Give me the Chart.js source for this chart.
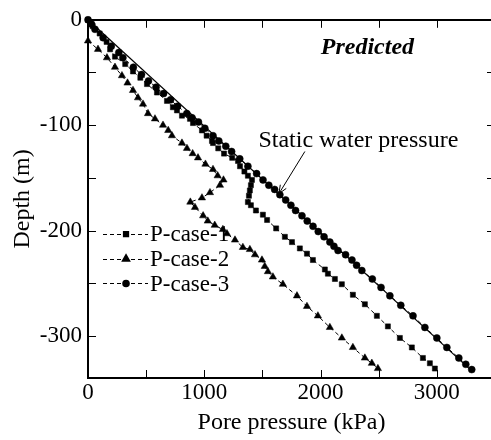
<!DOCTYPE html>
<html><head><meta charset="utf-8">
<script src="https://cdn.jsdelivr.net/npm/chart.js@4.4.1/dist/chart.umd.min.js"></script>
<style>
html,body{margin:0;padding:0;background:#fff;overflow:hidden;width:491px;height:440px}
#wrap{width:500px;height:440px;position:relative}
</style>
</head><body><div id="wrap"><canvas id="c" width="500" height="440"></canvas></div>
<script>
// ---------- data ----------
const seriesNames = ['P-case-1', 'P-case-2', 'P-case-3'];

const case1Pressure = [0, 40, 100, 160, 190, 232, 320, 387, 450, 507, 593, 679, 730, 765, 808, 877, 903, 980, 1020, 1066, 1075, 1120, 1170, 1240, 1290, 1307, 1345, 1375, 1410, 1401, 1392, 1384, 1375, 1401, 1444, 1504, 1540, 1618, 1693, 1754, 1822, 1883, 1934, 2037, 2063, 2123, 2183, 2278, 2381, 2484, 2579, 2682, 2785, 2880, 2940, 2983];
const case1Depth    = [0, -6, -13, -21, -28, -35, -42, -49, -55, -61, -69, -77, -83, -86, -91, -94, -98, -105, -110, -115, -117, -122, -127, -131, -134, -139, -144, -148, -152, -157, -162, -167, -173, -176, -181, -185, -190, -198, -206, -211, -217, -222, -228, -237, -241, -246, -251, -261, -270, -281, -291, -302, -311, -321, -326, -331];

const case2Pressure = [0, 86, 163, 232, 292, 340, 387, 430, 473, 516, 576, 645, 690, 722, 808, 851, 900, 946, 1010, 1075, 1115, 1165, 1135, 1049, 980, 880, 920, 990, 1030, 1090, 1160, 1195, 1264, 1332, 1392, 1436, 1496, 1520, 1547, 1590, 1676, 1797, 1883, 1977, 2080, 2183, 2278, 2381, 2441, 2493];
const case2Depth    = [-20, -28, -36, -45, -53, -60, -67, -74, -80, -89, -94, -100, -105, -110, -117, -122, -127, -131, -137, -142, -148, -152, -157, -164, -169, -173, -178, -186, -191, -195, -199, -203, -209, -216, -218, -223, -228, -234, -239, -244, -251, -262, -272, -281, -292, -302, -311, -321, -326, -331];

const case3Pressure = [0, 30, 60, 130, 200, 265, 300, 390, 460, 520, 585, 650, 710, 770, 850, 895, 950, 1005, 1075, 1125, 1185, 1235, 1305, 1375, 1450, 1505, 1555, 1605, 1650, 1700, 1745, 1785, 1840, 1885, 1935, 1980, 2030, 2080, 2115, 2150, 2215, 2270, 2310, 2355, 2445, 2520, 2596, 2690, 2795, 2897, 3000, 3086, 3189, 3249, 3300];
const case3Depth    = [0, -4, -9, -17, -25, -31, -36, -45, -52, -58, -64, -70, -76, -82, -89, -93, -97, -103, -110, -115, -120, -125, -132, -139, -146, -152, -157, -161, -166, -171, -176, -181, -186, -191, -196, -201, -206, -211, -215, -219, -223, -228, -233, -238, -246, -254, -262, -271, -281, -292, -302, -311, -321, -327, -332];

const staticPressure = [0, 3307];
const staticDepth    = [0, -334];

const xTickValues  = [0, 500, 1000, 1500, 2000, 2500, 3000];
const xLabelValues = [0, 1000, 2000, 3000];
const yTickValues  = [0, -50, -100, -150, -200, -250, -300];
const yLabelValues = [0, -100, -200, -300];

const xTitle = 'Pore pressure (kPa)';
const yTitle = 'Depth (m)';
const panelLabel = 'Predicted';
const staticLabel = 'Static water pressure';

// ---------- build ----------
const FONT = "'Liberation Serif', 'Times New Roman', serif";
const pts = (xs, ys) => xs.map((v, i) => ({x: v, y: ys[i]}));
const markerStyles = ['rect', 'triangle', 'circle'];
const markerRadius = [3.6, 4.2, 3.5];
const series = [
  pts(case1Pressure, case1Depth),
  pts(case2Pressure, case2Depth),
  pts(case3Pressure, case3Depth)
];

const datasets = series.map((d, i) => ({
  label: seriesNames[i],
  data: d,
  showLine: true,
  borderColor: '#000',
  backgroundColor: '#000',
  borderWidth: 1,
  borderDash: [4, 3],
  pointStyle: markerStyles[i],
  pointRadius: markerRadius[i],
  pointBorderWidth: 0.5,
  pointBackgroundColor: '#000',
  pointBorderColor: '#000',
  clip: false,
  tension: 0
}));
datasets.push({
  label: 'static',
  data: pts(staticPressure, staticDepth),
  showLine: true,
  borderColor: '#000',
  borderWidth: 1.2,
  pointRadius: 0,
  clip: false
});

// legend / annotation anchor positions in data units
const legendLineX = [129, 516];
const legendMarkX = 327;
const legendTextX = 533;
const legendRowY = [-203.4, -226.9, -250.3];
const legendMarkRadius = [3, 3.6, 2.8];
const staticTextPos = [2325, -121];
const arrowFrom = [1865, -125];
const arrowTo = [1642, -165];
const panelLabelPos = [2403, -32];

const framePlugin = {
  id: 'frame',
  afterDraw(chart) {
    const {ctx, chartArea: a, scales: {x, y}} = chart;
    ctx.save();
    ctx.strokeStyle = '#000';
    ctx.lineWidth = 1;
    const TL = 8;
    ctx.beginPath();
    xTickValues.forEach(v => {
      const px = Math.round(x.getPixelForValue(v)) + 0.5;
      ctx.moveTo(px, a.bottom); ctx.lineTo(px, a.bottom - TL);
      ctx.moveTo(px, a.top); ctx.lineTo(px, a.top + TL);
    });
    yTickValues.forEach(v => {
      const py = Math.round(y.getPixelForValue(v)) + 0.5;
      ctx.moveTo(a.left, py); ctx.lineTo(a.left + TL, py);
      ctx.moveTo(a.right, py); ctx.lineTo(a.right - TL, py);
    });
    ctx.stroke();
    ctx.lineWidth = 2;
    ctx.strokeRect(Math.round(a.left), Math.round(a.top), Math.round(a.right - a.left), Math.round(a.bottom - a.top));

    // legend
    for (let i = 0; i < 3; i++) {
      const py = y.getPixelForValue(legendRowY[i]);
      const x1 = x.getPixelForValue(legendLineX[0]);
      const x2 = x.getPixelForValue(legendLineX[1]);
      ctx.save();
      ctx.lineWidth = 1;
      ctx.setLineDash([4, 3]);
      ctx.beginPath(); ctx.moveTo(x1, Math.round(py) + 0.5); ctx.lineTo(x2, Math.round(py) + 0.5); ctx.stroke();
      ctx.restore();
      ctx.fillStyle = '#000';
      Chart.helpers.drawPoint(ctx, {pointStyle: markerStyles[i], radius: legendMarkRadius[i], rotation: 0, borderWidth: 0.5}, x.getPixelForValue(legendMarkX), py);
      ctx.fillStyle = '#000';
      ctx.font = '23px ' + FONT;
      ctx.textAlign = 'left';
      ctx.textBaseline = 'middle';
      ctx.fillText(seriesNames[i], x.getPixelForValue(legendTextX), py + 1);
    }

    // annotations
    ctx.fillStyle = '#000';
    ctx.font = '24px ' + FONT;
    ctx.textAlign = 'center';
    ctx.textBaseline = 'alphabetic';
    ctx.fillText(staticLabel, x.getPixelForValue(staticTextPos[0]), y.getPixelForValue(staticTextPos[1]));
    ctx.font = 'italic bold 24px ' + FONT;
    ctx.fillText(panelLabel, x.getPixelForValue(panelLabelPos[0]), y.getPixelForValue(panelLabelPos[1]));

    const ax1 = x.getPixelForValue(arrowFrom[0]), ay1 = y.getPixelForValue(arrowFrom[1]);
    const ax2 = x.getPixelForValue(arrowTo[0]), ay2 = y.getPixelForValue(arrowTo[1]);
    ctx.lineWidth = 1;
    ctx.beginPath(); ctx.moveTo(ax1, ay1); ctx.lineTo(ax2, ay2); ctx.stroke();
    const ang = Math.atan2(ay2 - ay1, ax2 - ax1);
    const HL = 9, HA = 0.4;
    ctx.beginPath();
    ctx.moveTo(ax2 - HL * Math.cos(ang - HA), ay2 - HL * Math.sin(ang - HA));
    ctx.lineTo(ax2, ay2);
    ctx.lineTo(ax2 - HL * Math.cos(ang + HA), ay2 - HL * Math.sin(ang + HA));
    ctx.stroke();
    ctx.restore();
  }
};

new Chart(document.getElementById('c'), {
  type: 'scatter',
  data: {datasets},
  options: {
    responsive: false,
    animation: false,
    layout: {padding: {top: 15, right: 5, left: 0, bottom: 0}},
    plugins: {legend: {display: false}, tooltip: {enabled: false}},
    scales: {
      x: {
        type: 'linear', min: 0, max: 3500,
        afterBuildTicks: s => { s.ticks = xTickValues.map(v => ({value: v})); },
        afterFit: s => { s.height = 62; },
        grid: {display: false, drawTicks: false},
        border: {display: false},
        ticks: {
          padding: 1, color: '#000', autoSkip: false, maxRotation: 0,
          font: {family: FONT, size: 23},
          callback: v => xLabelValues.includes(v) ? String(v) : ''
        },
        title: {display: true, text: xTitle, color: '#000', font: {family: FONT, size: 24}, padding: {top: 0, bottom: 2.6}}
      },
      y: {
        type: 'linear', min: -340, max: 0,
        afterBuildTicks: s => { s.ticks = yTickValues.map(v => ({value: v})); },
        afterFit: s => { s.width = 88; },
        grid: {display: false, drawTicks: false},
        border: {display: false},
        ticks: {
          padding: 6, color: '#000', autoSkip: false,
          font: {family: FONT, size: 23},
          callback: v => yLabelValues.includes(v) ? String(v) : ''
        },
        title: {display: true, text: yTitle, color: '#000', font: {family: FONT, size: 24}, padding: {top: 8.6, bottom: 0}}
      }
    }
  },
  plugins: [framePlugin]
});
</script>
</body></html>
